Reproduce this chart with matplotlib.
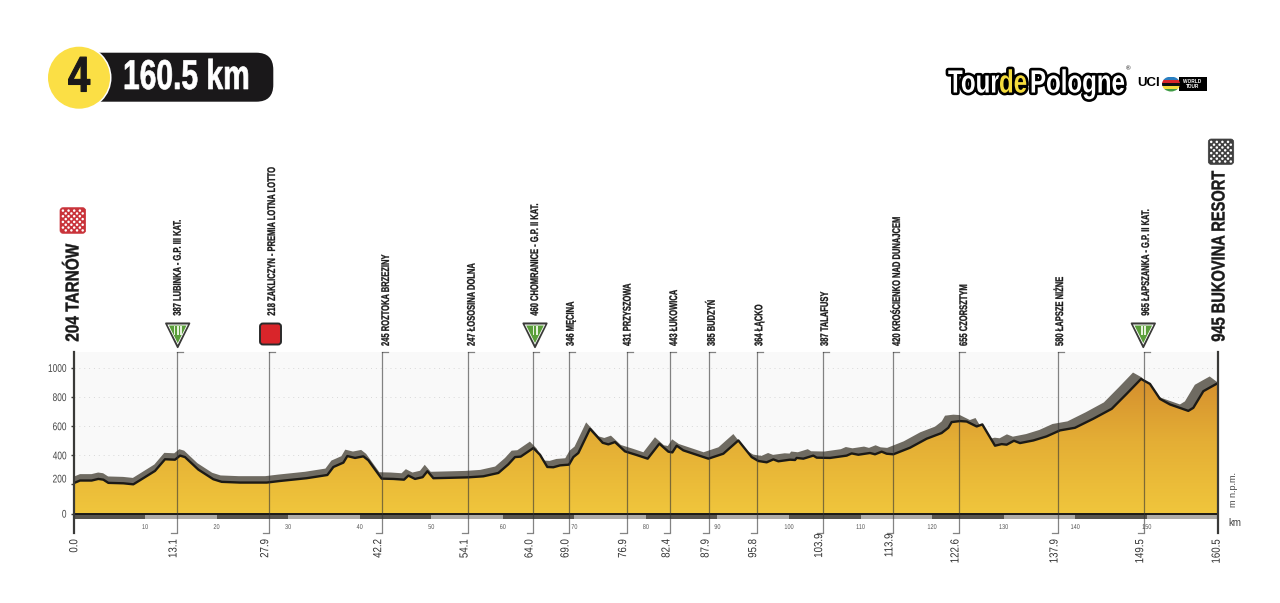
#!/usr/bin/env python3

import numpy
import matplotlib
matplotlib.use("Agg")
import matplotlib.pyplot as plt
from matplotlib.colors import LinearSegmentedColormap
from matplotlib.patches import Circle, Ellipse, FancyBboxPatch, Polygon, Rectangle
from matplotlib.patheffects import AbstractPathEffect
from matplotlib.transforms import Affine2D, ScaledTranslation

#-------------------------------------------------------------
# profile of the stage
profile_km = [0.0, 0.12, 0.91, 2.54, 3.47, 4.17, 4.87, 6.97, 8.36, 9.29, 11.39, 12.79, 14.19,
              14.89, 15.58, 17.45, 19.54, 20.71, 23.27, 27.0, 28.86, 32.59, 35.48, 36.32,
              37.72, 38.27, 39.35, 40.51, 41.21, 42.05, 43.07, 44.7, 46.2, 46.8, 47.73, 48.8,
              49.46, 50.3, 52.0, 55.18, 57.28, 59.38, 60.77, 61.7, 62.5, 64.27, 65.2, 66.22,
              67.06, 68.0, 69.25, 69.86, 70.56, 72.19, 73.96, 74.75, 75.68, 77.08, 78.71,
              80.25, 81.88, 83.14, 83.7, 84.3, 85.23, 88.73, 90.82, 92.92, 94.78, 95.72,
              96.88, 97.81, 98.51, 100.14, 100.84, 101.07, 102.0, 103.4, 103.87, 105.73,
              108.06, 108.76, 109.69, 111.32, 112.02, 112.95, 113.65, 114.58, 116.91, 119.24,
              121.33, 122.27, 122.73, 123.9, 124.83, 126.23, 127.02, 128.79, 129.72, 130.42,
              131.44, 132.28, 134.15, 136.01, 137.87, 139.97, 142.53, 145.1, 147.19, 149.2,
              150.45, 151.85, 153.25, 155.81, 156.51, 157.91, 159.07, 160.0]
profile_m = [204, 211, 227, 227, 238, 233, 211, 208, 201, 229, 293, 373, 370,
             398, 388, 302, 236, 218, 213, 213, 224, 243, 265, 320,
             350, 395, 382, 393, 366, 309, 240, 238, 233, 261, 238, 250,
             291, 243, 245, 249, 256, 279, 338, 388, 391, 450, 404, 320,
             318, 331, 336, 388, 416, 582, 486, 475, 491, 427, 402,
             377, 480, 425, 420, 466, 434, 377, 411, 502, 388, 361,
             352, 372, 359, 370, 368, 382, 377, 398, 384, 382,
             398, 413, 404, 416, 407, 425, 411, 407, 452, 514,
             553, 589, 628, 635, 632, 598, 612, 466, 477, 473,
             500, 484, 502, 530, 571, 589, 651, 719, 822, 924,
             890, 787, 749, 705, 726, 840, 872, 897]

# where the vertical lines stand on the km scale and what is printed under them
point_km = [14.47, 27.28, 43.07, 55.14, 64.22, 69.25, 77.3, 83.37, 88.83, 95.48, 104.7,
            114.53, 123.76, 137.6, 149.57]
point_dist = ["13.1", "27.9", "42.2", "54.1", "64.0", "69.0", "76.9", "82.4", "87.9", "95.8",
              "103.9", "113.9", "122.6", "137.9", "149.5"]
point_name = ["387 LUBINKA - G.P. III KAT.", "218 ZAKLICZYN - PREMIA LOTNA LOTTO",
              "245 ROZTOKA BRZEZINY", "247 ŁOSOSINA DOLNA", "460 CHOMRANICE - G.P. II KAT.",
              "346 MĘCINA", "431 PRZYSZOWA", "443 ŁUKOWICA", "385 BUDZYŃ", "364 ŁĄCKO",
              "387 TALAFUSY", "420 KROŚCIENKO NAD DUNAJCEM", "655 CZORSZTYM", "580 ŁAPSZE NIŻNE",
              "965 ŁAPSZANKA - G.P. II KAT."]
name_dx = [0.7, 3.3, 4.3, 3.7, 2, 1.7, 1, 4, 2.7, 2.6, 2.3, 4, 5, 2, 2.3]
name_raised = [True, True, False, False, True, False, False, False, False, False, False,
               False, False, False, True]

height_ticks = [0, 200, 400, 600, 800, 1000]
km_ticks = list(range(10, 160, 10))

FONT = ["Liberation Sans", "DejaVu Sans"]

#-------------------------------------------------------------
class Squeeze(AbstractPathEffect):
    """ no condensed font here: scale the glyphs along and across the text direction """

    def __init__(self, sx, anchor="start", stroke=0, stroke_color="black", sy=1):
        super().__init__()
        self.sx = sx
        self.sy = sy
        self.anchor = anchor
        self.stroke = stroke
        self.stroke_color = stroke_color

    def draw_path(self, renderer, gc, tpath, affine, rgbFace=None):
        box = tpath.get_extents()
        if self.anchor == "end":
            x0 = box.x1
        elif self.anchor == "center":
            x0 = (box.x0 + box.x1) / 2
        else:
            x0 = 0
        squeezed = Affine2D().translate(-x0, 0).scale(self.sx, self.sy).translate(x0, 0) + affine
        if self.stroke > 0:
            gc0 = renderer.new_gc()
            gc0.copy_properties(gc)
            gc0.set_linewidth(self.stroke)
            gc0.set_foreground(self.stroke_color)
            gc0.set_joinstyle("round")
            renderer.draw_path(gc0, tpath, squeezed, None)
            gc0.restore()
        renderer.draw_path(gc, tpath, squeezed, rgbFace)

#-------------------------------------------------------------
def drawProfile(ax):
    km = numpy.array(profile_km)
    m = numpy.array(profile_m)

    # grey 3d band behind the profile, leans left towards the finish
    back_km = km * (1 - 0.0075)
    back_m = m + 44
    band = numpy.concatenate([numpy.column_stack([back_km, back_m]),
                              numpy.column_stack([km, m])[::-1]])
    ax.add_patch(Polygon(band, closed=True, color="#6f6b62", lw=0, zorder=3))

    # yellow to orange fill
    outline = numpy.vstack([[0, 0], numpy.column_stack([km, m]), [km[-1], 0]])
    shape = Polygon(outline, closed=True, facecolor="none", lw=0, zorder=4)
    ax.add_patch(shape)
    cmap = LinearSegmentedColormap.from_list("hill", ["#f0c63c", "#e4ae35", "#d28a2d"])
    img = ax.imshow(numpy.linspace(0, 1, 256).reshape(-1, 1), origin="lower", cmap=cmap,
                    extent=(0, 160, 0, 1000), aspect="auto", zorder=4)
    img.set_clip_path(shape)

    ax.plot(km, m, color="#1c1a16", lw=1.7, zorder=5, solid_joinstyle="round")

#-------------------------------------------------------------
def drawKmStrip(ax):
    for i, start in enumerate(range(0, 160, 10)):
        color = "#57544e" if i % 2 == 0 else "#aeaca8"
        ax.bar(start, -38, width=10, align="edge", color=color, lw=0, zorder=3)
    ax.axhline(0, color="#1c1a16", lw=1.4, zorder=6)

#-------------------------------------------------------------
def drawDist(ax, x, y, text, dx, dy):
    ax.annotate(text, (x, y), xytext=(dx, dy), textcoords="offset pixels", rotation=90,
                ha="center", va="top", family=FONT, fontsize=8.5, color="#333333",
                annotation_clip=False, path_effects=[Squeeze(0.82, "end")])

#-------------------------------------------------------------
def drawPoints(ax, top, bottom):
    for i, x in enumerate(point_km):
        ax.plot([x, x], [bottom, top], color="#333333", alpha=0.6, lw=0.9, zorder=7)
        ax.plot([x, x + 0.85], [top, top], color="#333333", alpha=0.6, lw=0.9, zorder=7, clip_on=False)
        ax.plot([x - 0.85, x], [bottom, bottom], color="#333333", alpha=0.6, lw=0.9, zorder=7, clip_on=False)

        rise = 36 if name_raised[i] else 5.7
        ax.annotate(point_name[i], (x, top), xytext=(name_dx[i], rise), textcoords="offset pixels",
                    rotation=90, ha="center", va="bottom", family=FONT, weight="bold",
                    fontsize=8, color="#1a1a1a", annotation_clip=False,
                    path_effects=[Squeeze(0.68, stroke=0.2, stroke_color="#1a1a1a")])

        drop = 0.5 if point_dist[i] in ("103.9", "113.9") else 6
        drawDist(ax, x, bottom, point_dist[i], -3.5, -drop)

    drawDist(ax, 0, bottom, "0.0", 0.8, -6)
    drawDist(ax, 160, bottom, "160.5", -1.6, -6)

#-------------------------------------------------------------
def drawMountain(ov, x, text):
    top, tip, half = 323.3, 347.3, 11.8
    ov.add_patch(Polygon([(x - half, top), (x + half, top), (x, tip)], closed=True, fc="#3a3a38",
                         ec="#3a3a38", lw=1.2, joinstyle="round"))
    ov.add_patch(Polygon([(x - half + 1.5, top + 1.2), (x + half - 1.5, top + 1.2), (x, tip - 2.5)],
                         closed=True, fc="white", lw=0))
    ov.add_patch(Polygon([(x - half + 3, top + 2.2), (x + half - 3, top + 2.2), (x, tip - 4.2)],
                         closed=True, fc="#5a9e3a", lw=0))
    ov.text(x, top + 8, text, color="#e6f2dc", ha="center", va="center", fontsize=10,
            family=FONT, weight="bold", path_effects=[Squeeze(0.85, "center")])

#-------------------------------------------------------------
def drawChecker(ov, x0, y0, size, color):
    ov.add_patch(FancyBboxPatch((x0 + 2, y0 + 2), size - 4, size - 4, boxstyle="round,pad=2,rounding_size=3",
                                fc=color, ec=color, lw=0.5))
    n = 8
    step = (size - 3) / n
    for r in range(n):
        for c in range(n):
            if (r + c) % 2 == 0:
                ov.add_patch(Circle((x0 + 1.5 + (c + 0.5) * step, y0 + 1.5 + (r + 0.5) * step),
                                    1.25, fc="white", lw=0))

#-------------------------------------------------------------
def drawHeader(ov):
    ov.add_patch(FancyBboxPatch((80, 52.7), 193.3, 49, boxstyle="round,pad=0,rounding_size=17",
                                fc="#1a181a", lw=0))
    ov.add_patch(Circle((79, 77.7), 32.5, fc="white", lw=0))
    ov.add_patch(Circle((79, 77.7), 31, fc="#fbdf45", lw=0))
    ov.text(79, 78.5, "4", ha="center", va="center", fontsize=36, family=FONT, weight="bold",
            color="#1a181a", path_effects=[Squeeze(0.8, "center", stroke=0.8, stroke_color="#1a181a")])
    ov.text(123, 78, "160.5 km", ha="left", va="center", fontsize=30, family=FONT, weight="bold",
            color="white", path_effects=[Squeeze(0.72, stroke=0.5, stroke_color="white")])

#-------------------------------------------------------------
def drawLogo(ov):
    # narrow font size and stretched height keep the three words from running into each other
    for x, word, color in [(948, "Tour", "white"), (999, "de", "#f5dc3c"), (1030, "Pologne", "white")]:
        ov.text(x, 92.5, word, ha="left", va="baseline", fontsize=16.5, family=FONT, weight="bold",
                color=color, path_effects=[Squeeze(1.05, "start", stroke=3.8, sy=1.4)])
    ov.text(1128, 69, "®", ha="center", va="center", fontsize=4.5, family=FONT, color="black")
    ov.text(1137, 83.5, "UCI", ha="left", va="center", fontsize=9.5, family=FONT, weight="bold", color="black")

    # rainbow badge and black box
    ov.add_patch(Rectangle((1179, 76.5), 27.5, 14.5, fc="black", lw=0))
    ov.text(1192.5, 84, "WORLD\nTOUR", ha="center", va="center", fontsize=3.4, linespacing=0.9,
            family=FONT, weight="bold", color="white")
    badge = Ellipse((1171, 84), 18, 15, fc="none", lw=0)
    ov.add_patch(badge)
    stripes = ["#2a7fc1", "#d9252a", "#111111", "#f5dc3c", "#3f9b45"]
    for i, color in enumerate(stripes):
        bar = Rectangle((1161, 76.5 + 3 * i), 20, 3, fc=color, lw=0)
        ov.add_patch(bar)
        bar.set_clip_path(badge)

#-------------------------------------------------------------
def main():
    fig = plt.figure(figsize=(12.8, 6.03), dpi=100)

    # axes: 160 km on 73.5..1218.3 px, -133..1111 m on 533..351.7 px
    ax = fig.add_axes([73.5 / 1280, 1 - 533 / 603, (1218.3 - 73.5) / 1280, (533 - 351.7) / 603])
    top = 1111
    bottom = -133
    ax.axhspan(0, top, color="#f9f9f9", lw=0, zorder=0)
    for h in height_ticks[1:]:
        ax.axhline(h, color="#d8d8d8", lw=0.7, ls=(0, (1, 4)), zorder=1)

    drawProfile(ax)
    drawKmStrip(ax)
    drawPoints(ax, top, bottom)

    ax.set_xlim(0, 160)
    ax.set_ylim(bottom, top)
    ax.spines["top"].set_visible(False)
    ax.spines["bottom"].set_visible(False)
    for side in ("left", "right"):
        ax.spines[side].set_linewidth(1.6)
        ax.spines[side].set_color("#3a3a38")
        ax.spines[side].set_zorder(8)

    ax.set_yticks(height_ticks)
    ax.set_yticklabels([str(h) for h in height_ticks], family=FONT, fontsize=8, color="#444444")
    ax.tick_params(axis="y", length=2.5, width=1, color="#3a3a38", pad=2.5)
    for label in ax.get_yticklabels():
        label.set_path_effects([Squeeze(0.75, "end")])
    shift = ScaledTranslation(0, 6 / 100, fig.dpi_scale_trans)
    label200 = ax.get_yticklabels()[1]
    label200.set_transform(label200.get_transform() + shift)

    ax.set_xticks(km_ticks)
    ax.set_xticklabels([str(k) for k in km_ticks], family=FONT, fontsize=5, color="#555555")
    ax.tick_params(axis="x", length=0, pad=-6.5)
    for label in ax.get_xticklabels():
        label.set_path_effects([Squeeze(0.8, "center")])

    # everything else is page layout, in pixels
    ov = fig.add_axes([0, 0, 1, 1], zorder=5)
    ov.set_xlim(0, 1280)
    ov.set_ylim(603, 0)
    ov.axis("off")

    drawHeader(ov)
    drawLogo(ov)

    ov.text(74, 341.7, "204 TARNÓW", rotation=90, ha="center", va="bottom", fontsize=13.5,
            family=FONT, weight="bold", color="#1a1a1a",
            path_effects=[Squeeze(0.82, stroke=0.3, stroke_color="#1a1a1a")])
    ov.text(1220, 341.7, "945 BUKOVINA RESORT", rotation=90, ha="center", va="bottom", fontsize=13.5,
            family=FONT, weight="bold", color="#1a1a1a",
            path_effects=[Squeeze(0.78, stroke=0.3, stroke_color="#1a1a1a")])
    ov.text(1234, 507.3, "m n.p.m.", rotation=90, ha="center", va="bottom", fontsize=6.5,
            family=FONT, color="#444444")
    ov.text(1235, 523, "km", ha="center", va="center", fontsize=7, family=FONT, color="#444444")

    drawChecker(ov, 60, 207.7, 25.6, "#c9333a")
    drawChecker(ov, 1208.3, 139, 25.4, "#3f3f3f")

    drawMountain(ov, 177.7, "III")
    drawMountain(ov, 535, "II")
    drawMountain(ov, 1143.3, "II")

    # intermediate sprint
    ov.add_patch(FancyBboxPatch((261.5, 325), 18, 18, boxstyle="round,pad=1.5,rounding_size=3",
                                fc="#d9252a", ec="#2b2b2b", lw=1.4))

    fig.savefig("out.png", dpi=100, facecolor="white")

#-------------------------------------------------------------
if __name__ == "__main__":
    main()
